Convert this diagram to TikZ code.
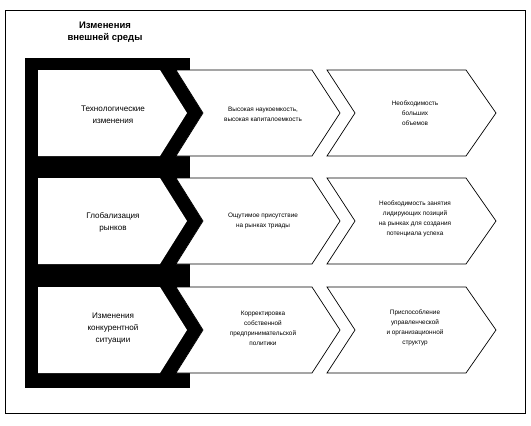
\documentclass[tikz,border=0pt]{standalone}
\usepackage{fontspec}
\setmainfont{Liberation Sans}
\tikzset{
	chevtext/.style={font=\fontsize{6.4}{10}\selectfont, align=center, inner sep=0pt},
	causetext/.style={font=\fontsize{8.1}{12}\selectfont, align=center, inner sep=0pt},
	headtext/.style={font=\fontsize{9.5}{11.5}\selectfont\bfseries, align=center, inner sep=0pt},
	spine/.style={fill=black},
	hole/.style={fill=white},
	chev/.style={draw=black, line width=0.7pt, fill=white, line join=miter},
}
\begin{document}
\begin{tikzpicture}[x=1pt,y=-1pt]
	\useasboundingbox (0,0) rectangle (531,426);
	\draw[line width=1pt] (5,10) rectangle (525,413);
	\node[headtext] (head) at (105,32) {Изменения\\внешней среды};
	% black spine
	\fill[spine] (25,58) rectangle (190,388);
	\foreach \t in {70,178,287}{
		\fill[spine] (25,\t) -- (176,\t) -- (203,\t+43) -- (176,\t+86) -- (25,\t+86) -- cycle;
		\draw[chev] (176,\t) -- (312,\t) -- (340,\t+43) -- (312,\t+86) -- (176,\t+86) -- (203,\t+43) -- cycle;
		\draw[chev] (327,\t) -- (466,\t) -- (496,\t+43) -- (466,\t+86) -- (327,\t+86) -- (355,\t+43) -- cycle;
		\fill[hole] (38,\t) -- (160,\t) -- (187,\t+43) -- (160,\t+86) -- (38,\t+86) -- cycle;
	}
	% row 1
	\node[causetext] (tech) at (113,115) {Технологические\\изменения};
	\node[chevtext] (science) at (263,114) {Высокая наукоемкость,\\высокая капиталоемкость};
	\node[chevtext] (volume) at (415,113) {Необходимость\\больших\\объемов};
	% row 2
	\node[causetext] (global) at (113,222) {Глобализация\\рынков};
	\node[chevtext] (triad) at (263,221) {Ощутимое присутствие\\на рынках триады};
	\node[chevtext] (leader) at (415,219) {Необходимость занятия\\лидирующих позиций\\на рынках для создания\\потенциала успеха};
	% row 3
	\node[causetext] (compet) at (113,329) {Изменения\\конкурентной\\ситуации};
	\node[chevtext] (policy) at (263,328) {Корректировка\\собственной\\предпринимательской\\политики};
	\node[chevtext] (struct) at (415,328) {Приспособление\\управленческой\\и организационной\\структур};
\end{tikzpicture}
\end{document}
